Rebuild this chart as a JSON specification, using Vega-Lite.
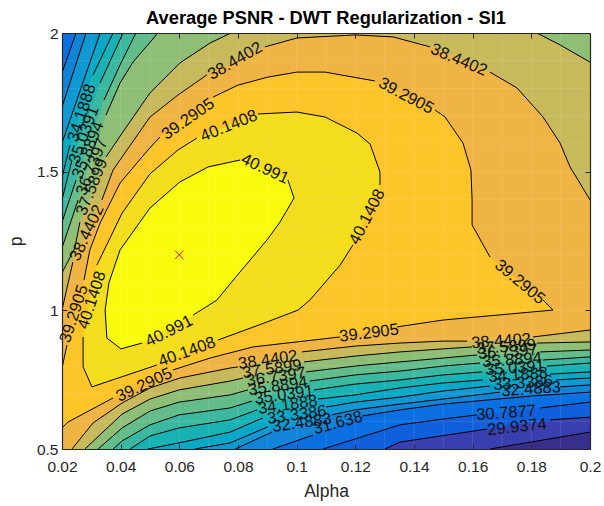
{"$schema":"https://vega.github.io/schema/vega-lite/v6.json","width":528,"height":416,"autosize":"none","padding":{"left":62,"top":33,"right":14,"bottom":57},"background":"white",
"title":{"text":"Average PSNR - DWT Regularization - SI1","font":"Liberation Sans","fontSize":18.3,"fontWeight":"bold","color":"black","anchor":"middle","offset":-2},
"config":{"view":{"stroke":null},"axis":{"grid":false,"labelFont":"Liberation Sans","titleFont":"Liberation Sans","labelFontSize":15.5,"titleFontSize":17.5,"titleFontWeight":"normal","labelColor":"#262626","titleColor":"#262626","domainColor":"#262626","tickColor":"#262626","tickWidth":1,"domainWidth":1.2}},
"datasets":{"c":[
{"l":"28.2","a":0.02,"p":0.5},{"l":"28.2","a":0.2,"p":0.5},{"l":"28.2","a":0.2,"p":2},{"l":"28.2","a":0.02,"p":2},
{"l":"29.0871","a":0.02,"p":0.5},{"l":"29.0871","s":1,"a":0.1659,"p":0.5},{"l":"29.0871","s":1,"a":0.2,"p":0.561},{"l":"29.0871","a":0.2,"p":2},{"l":"29.0871","a":0.02,"p":2},
{"l":"29.9374","a":0.02,"p":0.5},{"l":"29.9374","s":1,"a":0.1301,"p":0.5},{"l":"29.9374","s":1,"a":0.1352,"p":0.525},{"l":"29.9374","s":1,"a":0.1649,"p":0.572},{"l":"29.9374","s":2,"a":0.1864,"p":0.605},{"l":"29.9374","s":2,"a":0.2,"p":0.615},{"l":"29.9374","a":0.2,"p":2},{"l":"29.9374","a":0.02,"p":2},
{"l":"30.7877","a":0.02,"p":0.5},{"l":"30.7877","s":1,"a":0.109,"p":0.5},{"l":"30.7877","s":1,"a":0.1199,"p":0.536},{"l":"30.7877","s":1,"a":0.1352,"p":0.587},{"l":"30.7877","s":1,"a":0.1499,"p":0.608},{"l":"30.7877","s":1,"a":0.1615,"p":0.623},{"l":"30.7877","s":2,"a":0.183,"p":0.648},{"l":"30.7877","s":2,"a":0.2,"p":0.669},{"l":"30.7877","a":0.2,"p":2},{"l":"30.7877","a":0.02,"p":2},
{"l":"31.638","a":0.02,"p":0.5},{"l":"31.638","s":1,"a":0.0919,"p":0.5},{"l":"31.638","s":1,"a":0.1056,"p":0.55},{"l":"31.638","s":2,"a":0.1223,"p":0.619},{"l":"31.638","s":2,"a":0.1352,"p":0.641},{"l":"31.638","s":2,"a":0.1499,"p":0.662},{"l":"31.638","s":2,"a":0.1799,"p":0.691},{"l":"31.638","s":2,"a":0.2,"p":0.705},{"l":"31.638","a":0.2,"p":2},{"l":"31.638","s":3,"a":0.0248,"p":2},{"l":"31.638","s":3,"a":0.02,"p":1.856},
{"l":"32.4883","a":0.02,"p":0.5},{"l":"32.4883","s":1,"a":0.079,"p":0.5},{"l":"32.4883","s":1,"a":0.0916,"p":0.561},{"l":"32.4883","s":2,"a":0.112,"p":0.623},{"l":"32.4883","s":2,"a":0.1199,"p":0.641},{"l":"32.4883","s":2,"a":0.1352,"p":0.662},{"l":"32.4883","s":2,"a":0.1499,"p":0.68},{"l":"32.4883","s":2,"a":0.1693,"p":0.705},{"l":"32.4883","s":3,"a":0.1898,"p":0.724},{"l":"32.4883","s":3,"a":0.2,"p":0.731},{"l":"32.4883","a":0.2,"p":2},{"l":"32.4883","s":4,"a":0.0282,"p":2},{"l":"32.4883","s":4,"a":0.02,"p":1.733},
{"l":"33.3386","a":0.02,"p":0.5},{"l":"33.3386","s":1,"a":0.0653,"p":0.5},{"l":"33.3386","s":1,"a":0.0773,"p":0.522},{"l":"33.3386","s":1,"a":0.0902,"p":0.58},{"l":"33.3386","s":2,"a":0.11,"p":0.651},{"l":"33.3386","s":2,"a":0.1199,"p":0.669},{"l":"33.3386","s":2,"a":0.1352,"p":0.687},{"l":"33.3386","s":2,"a":0.1499,"p":0.709},{"l":"33.3386","s":2,"a":0.1659,"p":0.727},{"l":"33.3386","s":3,"a":0.1884,"p":0.749},{"l":"33.3386","s":3,"a":0.2,"p":0.756},{"l":"33.3386","a":0.2,"p":2},{"l":"33.3386","s":4,"a":0.033,"p":2},{"l":"33.3386","s":4,"a":0.02,"p":1.603},
{"l":"34.1888","a":0.02,"p":0.5},{"l":"34.1888","s":1,"a":0.0493,"p":0.5},{"l":"34.1888","s":1,"a":0.0599,"p":0.522},{"l":"34.1888","s":1,"a":0.0773,"p":0.561},{"l":"34.1888","s":1,"a":0.0885,"p":0.612},{"l":"34.1888","s":2,"a":0.1073,"p":0.68},{"l":"34.1888","s":2,"a":0.1199,"p":0.695},{"l":"34.1888","s":2,"a":0.1352,"p":0.72},{"l":"34.1888","s":2,"a":0.1499,"p":0.738},{"l":"34.1888","s":2,"a":0.1635,"p":0.749},{"l":"34.1888","s":3,"a":0.1864,"p":0.77},{"l":"34.1888","s":3,"a":0.2,"p":0.778},{"l":"34.1888","a":0.2,"p":2},{"l":"34.1888","s":4,"a":0.0374,"p":2},{"l":"34.1888","s":4,"a":0.0306,"p":1.849},{"l":"34.1888","s":5,"a":0.0227,"p":1.596},{"l":"34.1888","s":5,"a":0.02,"p":1.477},
{"l":"35.0391","a":0.02,"p":0.5},{"l":"35.0391","s":1,"a":0.0432,"p":0.5},{"l":"35.0391","s":1,"a":0.05,"p":0.547},{"l":"35.0391","s":1,"a":0.0599,"p":0.576},{"l":"35.0391","s":1,"a":0.0773,"p":0.605},{"l":"35.0391","s":1,"a":0.0865,"p":0.641},{"l":"35.0391","s":2,"a":0.1059,"p":0.713},{"l":"35.0391","s":2,"a":0.1199,"p":0.734},{"l":"35.0391","s":2,"a":0.1352,"p":0.749},{"l":"35.0391","s":2,"a":0.1499,"p":0.767},{"l":"35.0391","s":2,"a":0.1632,"p":0.778},{"l":"35.0391","s":3,"a":0.1853,"p":0.799},{"l":"35.0391","s":3,"a":0.2,"p":0.81},{"l":"35.0391","a":0.2,"p":2},{"l":"35.0391","s":4,"a":0.0408,"p":2},{"l":"35.0391","s":4,"a":0.033,"p":1.82},{"l":"35.0391","s":5,"a":0.0234,"p":1.542},{"l":"35.0391","s":5,"a":0.02,"p":1.398},
{"l":"35.8894","a":0.02,"p":0.5},{"l":"35.8894","s":1,"a":0.0374,"p":0.5},{"l":"35.8894","s":1,"a":0.0405,"p":0.529},{"l":"35.8894","s":1,"a":0.05,"p":0.587},{"l":"35.8894","s":1,"a":0.0599,"p":0.623},{"l":"35.8894","s":1,"a":0.0773,"p":0.648},{"l":"35.8894","s":1,"a":0.0848,"p":0.673},{"l":"35.8894","s":2,"a":0.1045,"p":0.745},{"l":"35.8894","s":2,"a":0.1199,"p":0.767},{"l":"35.8894","s":2,"a":0.1352,"p":0.781},{"l":"35.8894","s":2,"a":0.1499,"p":0.799},{"l":"35.8894","s":2,"a":0.1625,"p":0.81},{"l":"35.8894","s":3,"a":0.184,"p":0.821},{"l":"35.8894","s":3,"a":0.2,"p":0.832},{"l":"35.8894","a":0.2,"p":2},{"l":"35.8894","s":4,"a":0.0452,"p":2},{"l":"35.8894","s":4,"a":0.0398,"p":1.885},{"l":"35.8894","s":4,"a":0.0343,"p":1.758},{"l":"35.8894","s":5,"a":0.0248,"p":1.47},{"l":"35.8894","s":5,"a":0.02,"p":1.318},
{"l":"36.7397","a":0.02,"p":0.5},{"l":"36.7397","s":1,"a":0.0323,"p":0.5},{"l":"36.7397","s":1,"a":0.0405,"p":0.576},{"l":"36.7397","s":1,"a":0.05,"p":0.637},{"l":"36.7397","s":1,"a":0.0599,"p":0.669},{"l":"36.7397","s":1,"a":0.0773,"p":0.695},{"l":"36.7397","s":1,"a":0.0834,"p":0.713},{"l":"36.7397","s":2,"a":0.1032,"p":0.778},{"l":"36.7397","s":2,"a":0.1199,"p":0.799},{"l":"36.7397","s":2,"a":0.1352,"p":0.814},{"l":"36.7397","s":2,"a":0.1499,"p":0.828},{"l":"36.7397","s":2,"a":0.1615,"p":0.839},{"l":"36.7397","s":3,"a":0.183,"p":0.85},{"l":"36.7397","s":3,"a":0.2,"p":0.857},{"l":"36.7397","a":0.2,"p":2},{"l":"36.7397","s":4,"a":0.0527,"p":2},{"l":"36.7397","s":4,"a":0.0442,"p":1.895},{"l":"36.7397","s":4,"a":0.0398,"p":1.82},{"l":"36.7397","s":4,"a":0.035,"p":1.704},{"l":"36.7397","s":5,"a":0.0255,"p":1.398},{"l":"36.7397","s":5,"a":0.02,"p":1.225},
{"l":"37.5899","a":0.02,"p":0.5},{"l":"37.5899","s":1,"a":0.0278,"p":0.5},{"l":"37.5899","s":1,"a":0.0405,"p":0.626},{"l":"37.5899","s":1,"a":0.05,"p":0.68},{"l":"37.5899","s":1,"a":0.0599,"p":0.713},{"l":"37.5899","s":1,"a":0.0773,"p":0.745},{"l":"37.5899","s":1,"a":0.0817,"p":0.756},{"l":"37.5899","s":2,"a":0.1025,"p":0.814},{"l":"37.5899","s":2,"a":0.1199,"p":0.835},{"l":"37.5899","s":2,"a":0.1352,"p":0.85},{"l":"37.5899","s":2,"a":0.1499,"p":0.861},{"l":"37.5899","s":2,"a":0.1598,"p":0.868},{"l":"37.5899","s":3,"a":0.1819,"p":0.882},{"l":"37.5899","s":3,"a":0.2,"p":0.886},{"l":"37.5899","s":4,"a":0.2,"p":1.895},{"l":"37.5899","s":4,"a":0.1898,"p":1.957},{"l":"37.5899","s":4,"a":0.1819,"p":2},{"l":"37.5899","s":5,"a":0.0776,"p":2},{"l":"37.5899","s":5,"a":0.0705,"p":1.964},{"l":"37.5899","s":5,"a":0.0602,"p":1.892},{"l":"37.5899","s":5,"a":0.05,"p":1.784},{"l":"37.5899","s":5,"a":0.0405,"p":1.639},{"l":"37.5899","s":5,"a":0.035,"p":1.553},{"l":"37.5899","s":6,"a":0.0261,"p":1.318},{"l":"37.5899","s":6,"a":0.0244,"p":1.225},{"l":"37.5899","s":6,"a":0.02,"p":1.135},
{"l":"38.4402","a":0.02,"p":0.5},{"l":"38.4402","s":1,"a":0.0234,"p":0.5},{"l":"38.4402","s":1,"a":0.0306,"p":0.594},{"l":"38.4402","s":1,"a":0.0405,"p":0.666},{"l":"38.4402","s":1,"a":0.05,"p":0.72},{"l":"38.4402","s":1,"a":0.0602,"p":0.756},{"l":"38.4402","s":1,"a":0.0773,"p":0.792},{"l":"38.4402","s":1,"a":0.08,"p":0.796},{"l":"38.4402","s":2,"a":0.1018,"p":0.85},{"l":"38.4402","s":2,"a":0.1199,"p":0.871},{"l":"38.4402","s":2,"a":0.1352,"p":0.882},{"l":"38.4402","s":2,"a":0.1499,"p":0.889},{"l":"38.4402","s":2,"a":0.1581,"p":0.889},{"l":"38.4402","s":3,"a":0.1806,"p":0.904},{"l":"38.4402","s":3,"a":0.2,"p":0.929},{"l":"38.4402","s":4,"a":0.2,"p":1.398},{"l":"38.4402","s":4,"a":0.1959,"p":1.47},{"l":"38.4402","s":4,"a":0.1932,"p":1.517},{"l":"38.4402","s":4,"a":0.1898,"p":1.603},{"l":"38.4402","s":4,"a":0.184,"p":1.697},{"l":"38.4402","s":4,"a":0.1751,"p":1.802},{"l":"38.4402","s":4,"a":0.1659,"p":1.859},{"l":"38.4402","s":5,"a":0.1455,"p":1.95},{"l":"38.4402","s":5,"a":0.1328,"p":1.986},{"l":"38.4402","s":5,"a":0.1199,"p":1.993},{"l":"38.4402","s":5,"a":0.1001,"p":1.982},{"l":"38.4402","s":5,"a":0.0892,"p":1.95},{"l":"38.4402","s":6,"a":0.0694,"p":1.849},{"l":"38.4402","s":6,"a":0.0595,"p":1.776},{"l":"38.4402","s":6,"a":0.05,"p":1.697},{"l":"38.4402","s":6,"a":0.0405,"p":1.553},{"l":"38.4402","s":6,"a":0.0374,"p":1.506},{"l":"38.4402","s":6,"a":0.0336,"p":1.398},{"l":"38.4402","s":7,"a":0.0237,"p":1.174},{"l":"38.4402","s":7,"a":0.02,"p":1.001},
{"l":"39.2905","s":1,"a":0.0715,"p":1.769},{"l":"39.2905","s":1,"a":0.08,"p":1.812},{"l":"39.2905","s":1,"a":0.0902,"p":1.841},{"l":"39.2905","s":1,"a":0.1001,"p":1.859},{"l":"39.2905","s":1,"a":0.1097,"p":1.859},{"l":"39.2905","s":1,"a":0.1267,"p":1.827},{"l":"39.2905","s":2,"a":0.1472,"p":1.722},{"l":"39.2905","s":2,"a":0.1506,"p":1.697},{"l":"39.2905","s":2,"a":0.1567,"p":1.603},{"l":"39.2905","s":2,"a":0.1594,"p":1.506},{"l":"39.2905","s":2,"a":0.1598,"p":1.398},{"l":"39.2905","s":2,"a":0.1598,"p":1.308},{"l":"39.2905","s":2,"a":0.1659,"p":1.192},{"l":"39.2905","s":3,"a":0.184,"p":1.037},{"l":"39.2905","s":3,"a":0.1874,"p":1.001},{"l":"39.2905","s":3,"a":0.1499,"p":0.965},{"l":"39.2905","s":3,"a":0.1359,"p":0.943},{"l":"39.2905","s":3,"a":0.1342,"p":0.94},{"l":"39.2905","s":4,"a":0.1148,"p":0.904},{"l":"39.2905","s":4,"a":0.0851,"p":0.868},{"l":"39.2905","s":4,"a":0.0705,"p":0.828},{"l":"39.2905","s":4,"a":0.0578,"p":0.785},{"l":"39.2905","s":5,"a":0.0374,"p":0.684},{"l":"39.2905","s":5,"a":0.022,"p":0.597},{"l":"39.2905","s":5,"a":0.02,"p":0.576},{"l":"39.2905","s":6,"a":0.02,"p":0.792},{"l":"39.2905","s":6,"a":0.0217,"p":0.875},{"l":"39.2905","s":7,"a":0.0275,"p":1.109},{"l":"39.2905","s":7,"a":0.0295,"p":1.218},{"l":"39.2905","s":7,"a":0.033,"p":1.315},{"l":"39.2905","s":7,"a":0.0398,"p":1.459},{"l":"39.2905","s":7,"a":0.0493,"p":1.578},{"l":"39.2905","s":7,"a":0.0534,"p":1.625},
{"l":"40.1408","s":1,"a":0.0868,"p":1.708},{"l":"40.1408","s":1,"a":0.1001,"p":1.715},{"l":"40.1408","s":1,"a":0.1097,"p":1.697},{"l":"40.1408","s":1,"a":0.1206,"p":1.639},{"l":"40.1408","s":1,"a":0.125,"p":1.6},{"l":"40.1408","s":1,"a":0.1284,"p":1.499},{"l":"40.1408","s":1,"a":0.1284,"p":1.452},{"l":"40.1408","s":2,"a":0.1192,"p":1.236},{"l":"40.1408","s":2,"a":0.1148,"p":1.163},{"l":"40.1408","s":2,"a":0.1045,"p":1.037},{"l":"40.1408","s":2,"a":0.1005,"p":1.001},{"l":"40.1408","s":2,"a":0.0899,"p":0.958},{"l":"40.1408","s":2,"a":0.0732,"p":0.893},{"l":"40.1408","s":3,"a":0.0524,"p":0.803},{"l":"40.1408","s":3,"a":0.0302,"p":0.724},{"l":"40.1408","s":3,"a":0.0272,"p":0.796},{"l":"40.1408","s":3,"a":0.0272,"p":0.904},{"l":"40.1408","s":4,"a":0.0319,"p":1.163},{"l":"40.1408","s":4,"a":0.0405,"p":1.351},{"l":"40.1408","s":4,"a":0.05,"p":1.492},{"l":"40.1408","s":4,"a":0.0595,"p":1.578},{"l":"40.1408","s":4,"a":0.066,"p":1.621},
{"l":"40.991","s":1,"a":0.097,"p":1.47},{"l":"40.991","s":1,"a":0.0991,"p":1.405},{"l":"40.991","s":1,"a":0.0943,"p":1.318},{"l":"40.991","s":1,"a":0.0899,"p":1.254},{"l":"40.991","s":1,"a":0.079,"p":1.117},{"l":"40.991","s":1,"a":0.0728,"p":1.037},{"l":"40.991","s":1,"a":0.0647,"p":0.983},{"l":"40.991","s":2,"a":0.0473,"p":0.882},{"l":"40.991","s":2,"a":0.0401,"p":0.861},{"l":"40.991","s":2,"a":0.0353,"p":0.9},{"l":"40.991","s":2,"a":0.0347,"p":1.001},{"l":"40.991","s":2,"a":0.036,"p":1.099},{"l":"40.991","s":2,"a":0.0398,"p":1.218},{"l":"40.991","s":2,"a":0.05,"p":1.369},{"l":"40.991","s":2,"a":0.0602,"p":1.463},{"l":"40.991","s":2,"a":0.0698,"p":1.517},{"l":"40.991","s":2,"a":0.0807,"p":1.542}
],
"t":[
{"t":"38.4402","a":0.079,"p":1.899,"r":-30},{"t":"39.2905","a":0.063,"p":1.69,"r":-35},{"t":"40.1408","a":0.0769,"p":1.665,"r":-22},{"t":"40.991","a":0.0892,"p":1.51,"r":25},{"t":"38.4402","a":0.1553,"p":1.903,"r":23},{"t":"39.2905","a":0.1373,"p":1.773,"r":28},{"t":"40.1408","a":0.124,"p":1.337,"r":-63},{"t":"39.2905","a":0.1761,"p":1.102,"r":40},{"t":"40.991","a":0.0565,"p":0.925,"r":-27},{"t":"40.1408","a":0.0626,"p":0.85,"r":-20},{"t":"39.2905","a":0.048,"p":0.731,"r":-25},{"t":"39.2905","a":0.1247,"p":0.918,"r":-7},{"t":"40.1408","a":0.0302,"p":1.037,"r":-72},{"t":"39.2905","a":0.0241,"p":0.987,"r":-72},{"t":"38.4402","a":0.0285,"p":1.279,"r":-65},{"t":"37.5899","a":0.0302,"p":1.445,"r":-68},{"t":"36.7397","a":0.0302,"p":1.517,"r":-68},{"t":"35.8894","a":0.0289,"p":1.578,"r":-68},{"t":"35.0391","a":0.0275,"p":1.632,"r":-70},{"t":"34.1888","a":0.0268,"p":1.712,"r":-72},
{"t":"38.4402","a":0.0902,"p":0.821,"r":-8},{"t":"37.5899","a":0.0916,"p":0.788,"r":-8},{"t":"36.7397","a":0.093,"p":0.76,"r":-8},{"t":"35.8894","a":0.0936,"p":0.727,"r":-8},{"t":"35.0391","a":0.0957,"p":0.695,"r":-8},{"t":"34.1888","a":0.097,"p":0.659,"r":-8},{"t":"33.3386","a":0.1001,"p":0.623,"r":-8},{"t":"32.4883","a":0.1018,"p":0.594,"r":-8},{"t":"31.638","a":0.1141,"p":0.594,"r":-15},
{"t":"38.4402","a":0.1697,"p":0.889,"r":-4},{"t":"37.5899","a":0.1714,"p":0.868,"r":-4},{"t":"36.7397","a":0.172,"p":0.85,"r":-4},{"t":"35.8894","a":0.1734,"p":0.821,"r":-4},{"t":"35.0391","a":0.1744,"p":0.792,"r":-4},{"t":"34.1888","a":0.1755,"p":0.767,"r":-4},{"t":"33.3386","a":0.1772,"p":0.738,"r":-4},{"t":"32.4883","a":0.1799,"p":0.716,"r":-4},{"t":"30.7877","a":0.1714,"p":0.63,"r":-4},{"t":"29.9374","a":0.1751,"p":0.579,"r":-6}
],
"gx":[{"a":0.03},{"a":0.04},{"a":0.05},{"a":0.06},{"a":0.07},{"a":0.08},{"a":0.09},{"a":0.1},{"a":0.11},{"a":0.12},{"a":0.13},{"a":0.14},{"a":0.15},{"a":0.16},{"a":0.17},{"a":0.18},{"a":0.19}],
"gy":[{"p":0.6},{"p":0.7},{"p":0.8},{"p":0.9},{"p":1},{"p":1.1},{"p":1.2},{"p":1.3},{"p":1.4},{"p":1.5},{"p":1.6},{"p":1.7},{"p":1.8},{"p":1.9}]},
"layer":[
{"data":{"name":"c"},"mark":{"type":"line","stroke":null,"strokeWidth":0},
"encoding":{"x":{"field":"a","type":"quantitative","scale":{"domain":[0.02,0.2],"nice":false,"zero":false},"axis":{"orient":"bottom","title":"Alpha","values":[0.02,0.04,0.06,0.08,0.1,0.12,0.14,0.16,0.18,0.2],"format":".2~f","tickSize":-5,"labelPadding":15,"titlePadding":8,"zindex":1,"labelFlush":false,"labelOverlap":false}},
"y":{"field":"p","type":"quantitative","scale":{"domain":[0.5,2],"nice":false,"zero":false},"axis":{"orient":"left","title":"p","values":[0.5,1,1.5,2],"format":"~g","tickSize":-5,"labelPadding":9,"titlePadding":11,"zindex":1,"labelFlush":false,"labelOverlap":false}},
"fill":{"field":"l","type":"nominal","legend":null,"scale":{"domain":["28.2","29.0871","29.9374","30.7877","31.638","32.4883","33.3386","34.1888","35.0391","35.8894","36.7397","37.5899","38.4402","39.2905","40.1408","40.991"],"range":["#382e8c","#3a3fb0","#1060dc","#0a70e2","#1284d8","#0f98d2","#08a8c6","#18b2b4","#3bb9a0","#63bd8b","#8fbe76","#c8ba5c","#f0b444","#fec52a","#f4dd1c","#f9fb0e"]}},
"order":{"value":null}}},
{"data":{"name":"gx"},"mark":{"type":"rule","color":"white","opacity":0.1,"strokeWidth":1},"encoding":{"x":{"field":"a","type":"quantitative","axis":{"orient":"top","title":null,"labels":false,"values":[0.02,0.04,0.06,0.08,0.1,0.12,0.14,0.16,0.18,0.2],"tickSize":-5,"zindex":1}}}},
{"data":{"name":"gy"},"mark":{"type":"rule","color":"white","opacity":0.1,"strokeWidth":1},"encoding":{"y":{"field":"p","type":"quantitative","axis":{"orient":"right","title":null,"labels":false,"values":[0.5,1,1.5,2],"tickSize":-5,"zindex":1}}}},
{"data":{"name":"c"},"transform":[{"filter":"datum.s > 0"}],"mark":{"type":"line","color":"black","strokeWidth":1,"clip":true},
"encoding":{"x":{"field":"a","type":"quantitative","axis":null},
"y":{"field":"p","type":"quantitative","axis":null},
"detail":[{"field":"l"},{"field":"s"}],"order":{"value":null}}},
{"data":{"name":"t"},"mark":{"type":"text","font":"Liberation Sans","fontSize":16.5,"color":"#111111","align":"center","baseline":"middle"},
"encoding":{"x":{"field":"a","type":"quantitative","axis":null},"y":{"field":"p","type":"quantitative","axis":null},"text":{"field":"t"},"angle":{"field":"r","type":"quantitative","scale":null}}},
{"data":{"values":[{"a":0.06,"p":1.2}]},"mark":{"type":"point","shape":"M-1,-1L1,1M-1,1L1,-1","color":"#ff0000","size":70,"strokeWidth":1,"filled":false,"opacity":1},
"encoding":{"x":{"field":"a","type":"quantitative","axis":null},"y":{"field":"p","type":"quantitative","axis":null}}}
],
"resolve":{"axis":{"x":"independent","y":"independent"}}}
